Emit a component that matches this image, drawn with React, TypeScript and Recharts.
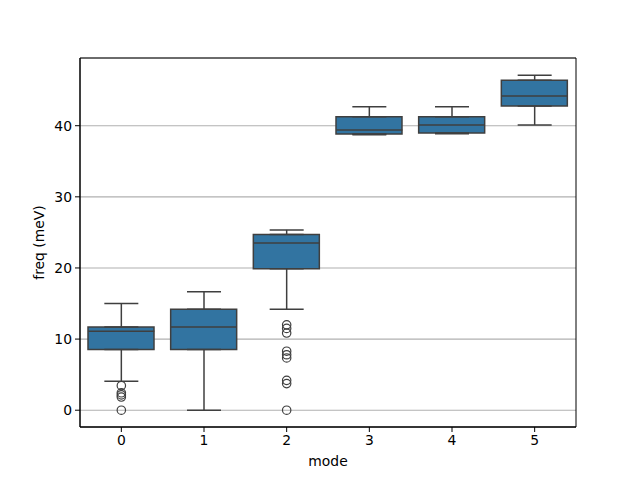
import React from 'react';
import {
  ComposedChart,
  Bar,
  Scatter,
  XAxis,
  YAxis,
  CartesianGrid,
  ErrorBar,
  ReferenceArea,
  Label,
} from 'recharts';

// ---- data ----
const modes = [0, 1, 2, 3, 4, 5];
const q1 = [8.52, 8.52, 19.9, 38.85, 38.96, 42.77];
const median = [11.1, 11.7, 23.5, 39.4, 40.1, 44.17];
const q3 = [11.7, 14.2, 24.7, 41.26, 41.26, 46.4];
const whiskerLow = [4.07, 0, 14.2, 38.74, 38.88, 40.1];
const whiskerHigh = [15.0, 16.65, 25.35, 42.67, 42.67, 47.1];

const outlierModes = [0, 0, 0, 0, 0, 2, 2, 2, 2, 2, 2, 2, 2, 2];
const outlierValues = [3.45, 2.45, 2.15, 1.85, 0.0, 12.0, 11.5, 10.85, 8.3, 7.8, 7.35, 4.2, 3.74, 0.0];

const yTicks = [0, 10, 20, 30, 40];
const xTicks = modes;
const xDomain = [-0.5, 5.5];
const yDomain = [-2.36, 49.52];

// ---- styles ----
const BOX_FILL = '#3274a1';
const LINE = '#3f3f3f';
const BOX_W = 66;
const FONT = "'DejaVu Sans', sans-serif";
const FS = 13.9;

const data = modes.map((m, i) => ({
  mode: m,
  box: [q1[i], q3[i]],
  q1: q1[i],
  q3: q3[i],
  median: median[i],
  upErr: [0, whiskerHigh[i] - q3[i]],
  lowErr: [q1[i] - whiskerLow[i], 0],
}));

const outliers = outlierModes.map((m, i) => ({ mode: m, value: outlierValues[i] }));

const Empty = () => <g />;

const MedianShape = (props: any) => (
  <line
    x1={props.cx - BOX_W / 2}
    x2={props.cx + BOX_W / 2}
    y1={props.cy}
    y2={props.cy}
    stroke={LINE}
    strokeWidth={1.5}
  />
);

const OutlierShape = (props: any) => (
  <circle cx={props.cx} cy={props.cy} r={4.2} fill="none" stroke={LINE} strokeWidth={1.2} />
);

const YLabel = (props: any) => {
  const vb = props.viewBox || { x: 0, y: 0, width: 80, height: 0 };
  const x = vb.x + 39;
  const y = vb.y + vb.height / 2;
  return (
    <text
      x={x}
      y={y}
      transform={`rotate(-90 ${x} ${y})`}
      textAnchor="middle"
      dominantBaseline="central"
      fontFamily={FONT}
      fontSize={FS}
      fill="#000"
    >
      freq (meV)
    </text>
  );
};

export default function App() {
  return (
    <div style={{ position: 'absolute', left: 0, top: 0, background: '#fff' }}>
      <ComposedChart
        width={640}
        height={480}
        data={data}
        margin={{ top: 58, right: 64, bottom: 0, left: 0 }}
      >
        <CartesianGrid vertical={false} stroke="#b0b0b0" strokeWidth={1.1} />
        <XAxis
          dataKey="mode"
          type="number"
          domain={xDomain}
          ticks={xTicks}
          allowDataOverflow
          height={53}
          tickSize={5}
          tickMargin={3}
          stroke="#000"
          tickLine={{ stroke: '#000' }}
          axisLine={{ stroke: '#000' }}
          tick={{ fontFamily: FONT, fontSize: FS, fill: '#000' }}
        >
          <Label
            value="mode"
            position="insideBottom"
            offset={14}
            style={{ fontFamily: FONT, fontSize: FS, fill: '#000' }}
          />
        </XAxis>
        <YAxis
          type="number"
          domain={yDomain}
          ticks={yTicks}
          allowDataOverflow
          width={80}
          tickSize={5}
          tickMargin={3}
          stroke="#000"
          tickLine={{ stroke: '#000' }}
          axisLine={{ stroke: '#000' }}
          tick={{ fontFamily: FONT, fontSize: FS, fill: '#000' }}
        >
          <Label content={<YLabel />} />
        </YAxis>
        <Bar
          dataKey="box"
          barSize={BOX_W}
          fill={BOX_FILL}
          stroke={LINE}
          strokeWidth={1.5}
          isAnimationActive={false}
        />
        <Scatter dataKey="q3" shape={<Empty />} isAnimationActive={false}>
          <ErrorBar dataKey="upErr" direction="y" width={17} stroke={LINE} strokeWidth={1.5} isAnimationActive={false} />
        </Scatter>
        <Scatter dataKey="q1" shape={<Empty />} isAnimationActive={false}>
          <ErrorBar dataKey="lowErr" direction="y" width={17} stroke={LINE} strokeWidth={1.5} isAnimationActive={false} />
        </Scatter>
        <Scatter dataKey="median" shape={<MedianShape />} isAnimationActive={false} />
        <Scatter data={outliers} dataKey="value" shape={<OutlierShape />} isAnimationActive={false} />
        <ReferenceArea
          x1={xDomain[0]}
          x2={xDomain[1]}
          y1={yDomain[0]}
          y2={yDomain[1]}
          fill="none"
          stroke="#000"
          strokeWidth={1}
          fillOpacity={0}
        />
      </ComposedChart>
    </div>
  );
}
